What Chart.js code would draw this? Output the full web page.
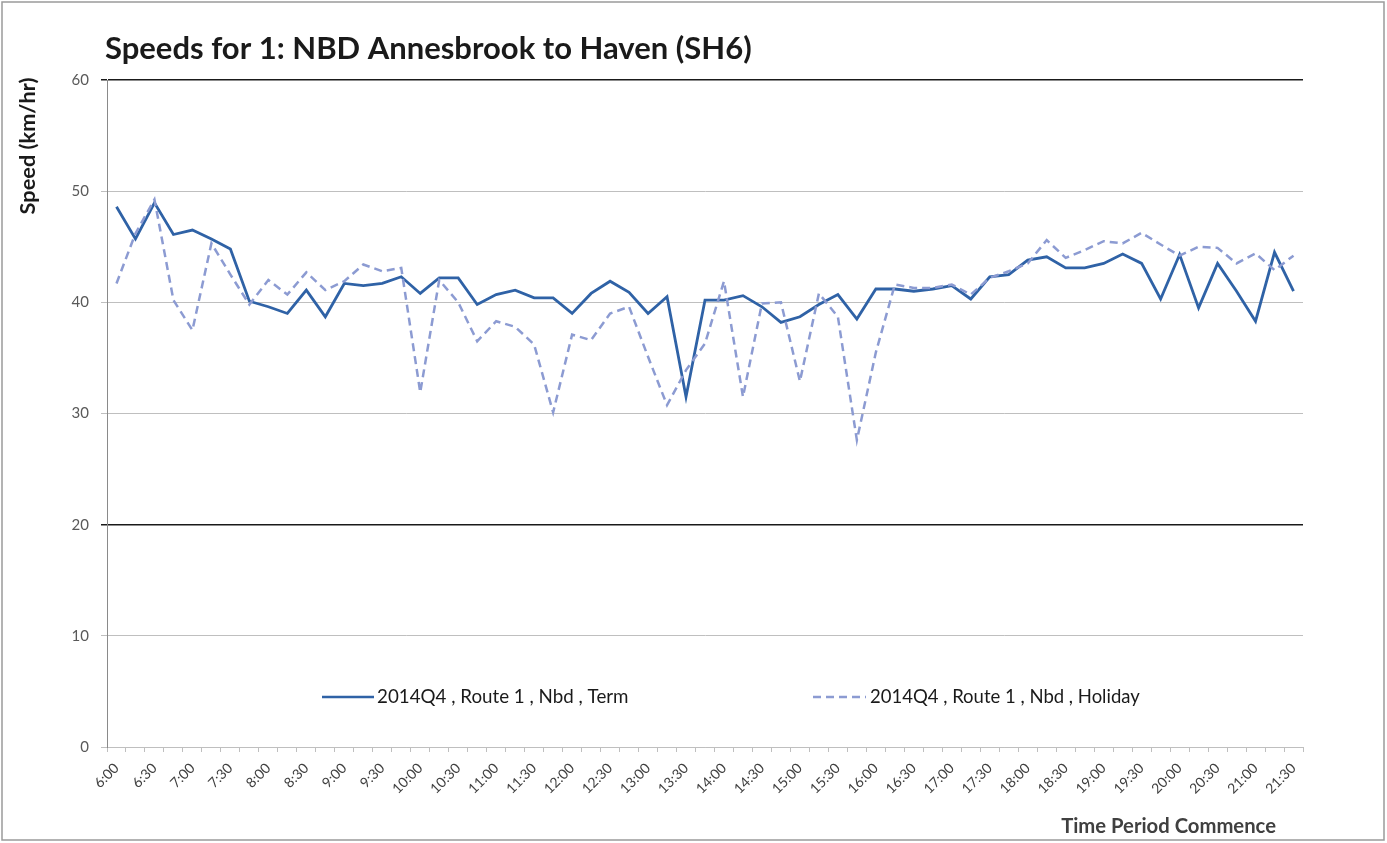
<!DOCTYPE html>
<html>
<head>
<meta charset="utf-8">
<script src="https://cdn.jsdelivr.net/npm/chart.js@4.4.1/dist/chart.umd.min.js"></script>
<style>
html,body{margin:0;padding:0;background:#fff;}
#wrap{width:1387px;height:843px;position:relative;}
canvas{display:block;}
</style>
</head>
<body>
<div id="wrap"><canvas id="c" width="1387" height="843"></canvas></div>
<script>
// ---- Data ----
const chartTitle = "Speeds for 1: NBD Annesbrook to Haven (SH6)";
const yAxisTitle = "Speed (km/hr)";
const xAxisTitle = "Time Period Commence";
const seriesNames = ["2014Q4 , Route 1 , Nbd , Term", "2014Q4 , Route 1 , Nbd , Holiday"];

const timeLabels = [
  "6:00","6:15","6:30","6:45","7:00","7:15","7:30","7:45",
  "8:00","8:15","8:30","8:45","9:00","9:15","9:30","9:45",
  "10:00","10:15","10:30","10:45","11:00","11:15","11:30","11:45",
  "12:00","12:15","12:30","12:45","13:00","13:15","13:30","13:45",
  "14:00","14:15","14:30","14:45","15:00","15:15","15:30","15:45",
  "16:00","16:15","16:30","16:45","17:00","17:15","17:30","17:45",
  "18:00","18:15","18:30","18:45","19:00","19:15","19:30","19:45",
  "20:00","20:15","20:30","20:45","21:00","21:15","21:30"
];

const termSpeeds = [
  48.6,45.7,48.95,46.1,46.5,45.7,44.8,40.1,
  39.6,39.0,41.1,38.7,41.7,41.5,41.7,42.3,
  40.8,42.2,42.2,39.8,40.7,41.1,40.4,40.4,
  39.0,40.8,41.9,40.9,39.0,40.5,31.5,40.2,
  40.2,40.6,39.6,38.2,38.7,39.8,40.7,38.5,
  41.2,41.2,41.0,41.2,41.5,40.3,42.3,42.5,
  43.8,44.1,43.1,43.1,43.5,44.35,43.5,40.3,
  44.3,39.5,43.5,41.0,38.3,44.5,41.0
];

const holidaySpeeds = [
  41.7,46.2,49.25,40.2,37.5,45.3,42.5,39.8,
  42.0,40.7,42.7,41.1,41.9,43.4,42.8,43.1,
  31.9,42.0,40.0,36.5,38.3,37.8,36.2,30.1,
  37.1,36.6,39.0,39.6,35.1,30.75,33.9,36.3,
  41.9,31.5,39.9,40.0,32.9,40.8,38.7,27.6,
  35.5,41.6,41.3,41.3,41.6,40.7,42.2,42.8,
  43.5,45.6,44.0,44.7,45.5,45.3,46.25,45.2,
  44.2,45.0,44.9,43.5,44.4,42.9,44.2
];

const yTicks = [0,10,20,30,40,50,60];
const darkGridValues = [60,20];

// ---- Styles ----
const FONT = "Lato, 'Open Sans', 'Liberation Sans', sans-serif";
const termColor = "#2F62A6";
const holidayColor = "#8C9BD2";

function fitFont(ctx, text, weight, target, start) {
  let fs = start;
  ctx.font = weight + " " + fs + "px " + FONT;
  while (ctx.measureText(text).width > target && fs > 6) {
    fs -= 0.25;
    ctx.font = weight + " " + fs + "px " + FONT;
  }
  return fs;
}

const decorPlugin = {
  id: 'decor',
  afterDraw(chart) {
    const ctx = chart.ctx;
    ctx.save();
    // frame
    ctx.strokeStyle = "#9a9a9a";
    ctx.lineWidth = 1.5;
    ctx.strokeRect(2, 2, 1382, 838);

    // title
    ctx.fillStyle = "#1a1a1a";
    ctx.textBaseline = "middle";
    ctx.textAlign = "left";
    fitFont(ctx, chartTitle, "bold", 647, 40);
    ctx.fillText(chartTitle, 105, 49);

    // y axis title
    ctx.save();
    ctx.translate(28, 146);
    ctx.rotate(-Math.PI / 2);
    ctx.textAlign = "center";
    fitFont(ctx, yAxisTitle, "bold", 138, 24);
    ctx.fillStyle = "#1a1a1a";
    ctx.fillText(yAxisTitle, 0, 0);
    ctx.restore();

    // x axis title
    ctx.textAlign = "right";
    fitFont(ctx, xAxisTitle, "bold", 215, 24);
    ctx.fillStyle = "#404040";
    ctx.fillText(xAxisTitle, 1276, 826);

    // legend
    const ly = 697;
    ctx.fillStyle = "#1a1a1a";
    ctx.textAlign = "left";
    ctx.lineWidth = 2.5;
    ctx.strokeStyle = termColor;
    ctx.setLineDash([]);
    ctx.beginPath(); ctx.moveTo(322, ly); ctx.lineTo(374, ly); ctx.stroke();
    fitFont(ctx, seriesNames[0], "normal", 254, 24);
    ctx.fillText(seriesNames[0], 377, ly);
    ctx.strokeStyle = holidayColor;
    ctx.setLineDash([8, 5]);
    ctx.beginPath(); ctx.moveTo(813, ly); ctx.lineTo(866, ly); ctx.stroke();
    ctx.setLineDash([]);
    fitFont(ctx, seriesNames[1], "normal", 273, 24);
    ctx.fillText(seriesNames[1], 870, ly);
    ctx.restore();
  }
};

new Chart(document.getElementById('c'), {
  type: 'line',
  data: {
    labels: timeLabels,
    datasets: [
      {
        label: seriesNames[1],
        data: holidaySpeeds,
        borderColor: holidayColor,
        borderWidth: 2.5,
        borderDash: [8, 5],
        pointRadius: 0,
        tension: 0,
        fill: false
      },
      {
        label: seriesNames[0],
        data: termSpeeds,
        borderColor: termColor,
        borderWidth: 2.8,
        pointRadius: 0,
        tension: 0,
        fill: false
      }
    ]
  },
  options: {
    responsive: false,
    animation: false,
    events: [],
    layout: { padding: { left: 0, right: 84, top: 80, bottom: 0 } },
    plugins: {
      legend: { display: false },
      title: { display: false },
      tooltip: { enabled: false }
    },
    scales: {
      x: {
        type: 'category',
        offset: true,
        grid: {
          display: true,
          drawOnChartArea: false,
          offset: true,
          tickLength: 5,
          color: '#BFBFBF'
        },
        border: { display: true, color: '#BFBFBF', width: 1 },
        ticks: {
          autoSkip: false,
          minRotation: 45,
          maxRotation: 45,
          padding: 8,
          color: '#404040',
          font: { family: FONT, size: 14 },
          callback: function(v, i) { return (i % 2 === 0) ? timeLabels[i] : ''; }
        },
        afterFit(scale) { scale.height = 96; }
      },
      y: {
        min: 0,
        max: 60,
        afterBuildTicks(scale) { scale.ticks = yTicks.map(v => ({ value: v })); },
        grid: {
          color: ctx => darkGridValues.includes(ctx.tick && ctx.tick.value) ? '#1a1a1a' : '#BFBFBF',
          lineWidth: ctx => darkGridValues.includes(ctx.tick && ctx.tick.value) ? 1.5 : 1,
          tickLength: 6
        },
        border: { display: true, color: '#8a8a8a', width: 1 },
        ticks: {
          padding: 12,
          color: '#595959',
          font: { family: FONT, size: 15 }
        },
        afterFit(scale) { scale.width = 107; }
      }
    }
  },
  plugins: [decorPlugin]
});
</script>
</body>
</html>
